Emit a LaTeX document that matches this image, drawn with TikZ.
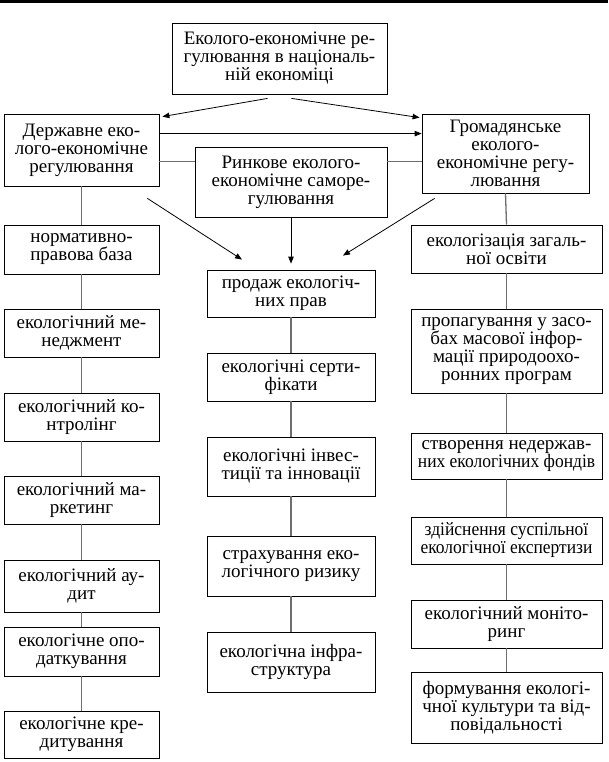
\documentclass[tikz,border=0pt]{standalone}
\usepackage{fontspec}
\setmainfont{Liberation Serif}
\usepackage{graphicx}
\usetikzlibrary{arrows.meta}
\usetikzlibrary{calc}

\newcommand{\tight}[1]{\scalebox{0.92}[1]{#1}}

\tikzset{
  blk/.style={draw,line width=0.8pt,align=center,inner sep=1pt,font=\fontsize{19}{18}\selectfont},
  link/.style={draw={rgb,255:red,110;green,110;blue,110},line width=1.3pt},
  arr/.style={draw,line width=0.8pt,-{Triangle[length=7pt,width=5.5pt]}},
}

\begin{document}
\begin{tikzpicture}[x=1pt,y=1pt,yscale=-1,xscale=1]
\useasboundingbox (0,0) rectangle (608,762);

%Shape: top rule
\fill (0,0) rectangle (608,3);

% Text Node
\node[blk,minimum width=215pt,minimum height=71pt] (top) at (279.5,58.5) {Еколого-економічне ре-\\гулювання в національ-\\ній економіці};
% Text Node
\node[blk,minimum width=155pt,minimum height=72pt] (gov) at (81.5,150) {Державне еко-\\лого-економічне\\регулювання};
% Text Node
\node[blk,minimum width=167pt,minimum height=79pt] (civ) at (505.5,153.5) {Громадянське\\еколого-\\економічне регу-\\лювання};
% Text Node
\node[blk,minimum width=192pt,minimum height=70pt] (mkt) at (291,182) {Ринкове еколого-\\економічне саморе-\\гулювання};

%left column
\node[blk,minimum width=155pt,minimum height=49pt] (l1) at (81.5,249.5) {нормативно-\\правова база};
\node[blk,minimum width=155pt,minimum height=48pt] (l2) at (81.5,333) {екологічний ме-\\неджмент};
\node[blk,minimum width=155pt,minimum height=48pt] (l3) at (81.5,417) {екологічний ко-\\нтролінг};
\node[blk,minimum width=155pt,minimum height=48pt] (l4) at (81.5,500) {екологічний ма-\\ркетинг};
\node[blk,minimum width=155pt,minimum height=52pt] (l5) at (81.5,586) {екологічний ау-\\дит};
\node[blk,minimum width=155pt,minimum height=49pt] (l6) at (81.5,651.5) {екологічне опо-\\даткування};
\node[blk,minimum width=155pt,minimum height=47pt] (l7) at (81.5,734.5) {екологічне кре-\\дитування};

%middle column
\node[blk,minimum width=168pt,minimum height=47pt] (m1) at (291,293.5) {продаж екологіч-\\них прав};
\node[blk,minimum width=168pt,minimum height=48pt] (m2) at (291,377) {екологічні серти-\\фікати};
\node[blk,minimum width=168pt,minimum height=59pt] (m3) at (291,466.5) {екологічні інвес-\\тиції та інновації};
\node[blk,minimum width=168pt,minimum height=60pt] (m4) at (291,566) {страхування еко-\\логічного ризику};
\node[blk,minimum width=168pt,minimum height=60pt] (m5) at (291,662) {екологічна інфра-\\структура};

%right column
\node[blk,minimum width=191pt,minimum height=48pt] (r1) at (506.5,249) {екологізація загаль-\\ної освіти};
\node[blk,minimum width=191pt,minimum height=84pt] (r2) at (506.5,351) {пропагування у засо-\\бах масової інфор-\\мації природоохо-\\ронних програм};
\node[blk,minimum width=191pt,minimum height=46pt] (r3) at (506.5,456) {створення недержав-\\\tight{них екологічних фондів}};
\node[blk,minimum width=191pt,minimum height=47pt] (r4) at (506.5,540.5) {\tight{здійснення суспільної}\\\tight{екологічної експертизи}};
\node[blk,minimum width=191pt,minimum height=48pt] (r5) at (506.5,624) {екологічний моніто-\\ринг};
\node[blk,minimum width=191pt,minimum height=71pt] (r6) at (506.5,707.5) {формування екологі-\\чної культури та від-\\повідальності};

%Straight Lines with arrows
\draw[arr] ($(top.south)+(-12,4)$) -- ($(gov.north east)+(3,3)$);
\draw[arr] ($(top.south)+(12,4)$) -- ($(civ.north west)+(-2,4)$);
\draw[arr] ($(gov.north east)+(0,20)$) -- ($(civ.north west)+(0,20)$);
\draw[arr] ($(gov.south east)+(-12,12)$) -- ($(m1.north)+(-49,-10)$);
\draw[arr] (mkt.south) -- ($(m1.north)+(0,-6)$);
\draw[arr] ($(civ.south west)+(13,5)$) -- ($(m1.north)+(52,-14)$);

%Straight Lines
\coordinate (mktl) at ($(mkt.north west)+(0,15)$);
\coordinate (mktr) at ($(mkt.north east)+(0,15)$);
\draw[link] (mktl) -- (gov.east |- mktl);
\draw[link] (mktr) -- (civ.west |- mktr);
\foreach \a/\b in {gov/l1,l1/l2,l2/l3,l3/l4,l4/l5,l5/l6,l6/l7,m1/m2,m2/m3,m3/m4,m4/m5,civ/r1,r1/r2,r2/r3,r3/r4,r4/r5,r5/r6}
  \draw[link] (\a.south) -- (\b.north);

\end{tikzpicture}
\end{document}
